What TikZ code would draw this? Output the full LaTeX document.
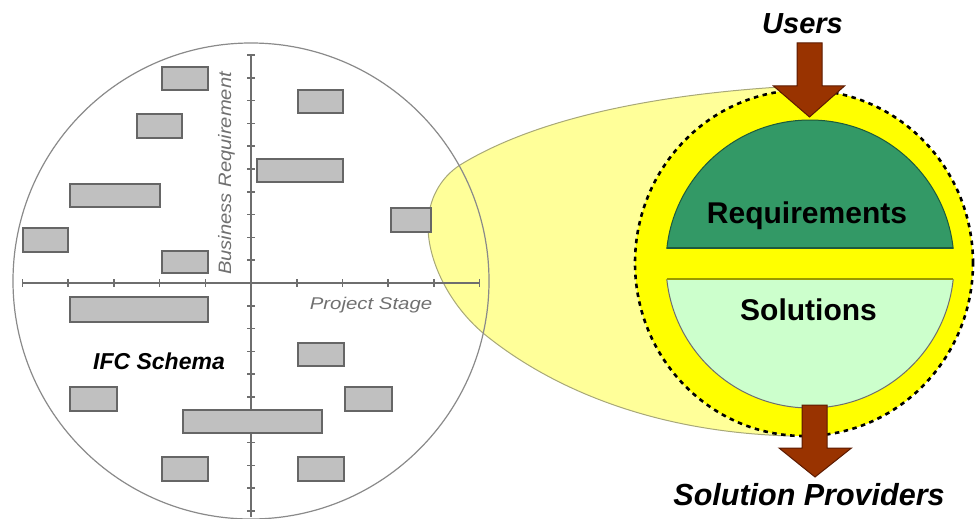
\documentclass[tikz,border=0pt]{standalone}
\usepackage{fontspec}
\setmainfont{Liberation Sans}
\usetikzlibrary{calc}
\definecolor{blobfill}{HTML}{FFFF99}
\definecolor{blobline}{HTML}{A8A878}
\definecolor{circgray}{HTML}{8A8A8A}
\definecolor{axisgray}{HTML}{6E6E6E}
\definecolor{barfill}{HTML}{C0C0C0}
\definecolor{barline}{HTML}{666666}
\definecolor{labgray}{HTML}{707070}
\definecolor{ringyellow}{HTML}{FFFF00}
\definecolor{reqgreen}{HTML}{339966}
\definecolor{reqline}{HTML}{1E5A3C}
\definecolor{solgreen}{HTML}{CCFFCC}
\definecolor{solline}{HTML}{999900}
\definecolor{arrowbrown}{HTML}{993300}
\definecolor{arrowline}{HTML}{5C1A00}
\begin{document}
\begin{tikzpicture}[x=1pt,y=-1pt,
  bar/.style={fill=barfill, draw=barline, line width=1.4pt},
  axisline/.style={draw=axisgray, line width=1.6pt},
  tickmark/.style={draw=axisgray, line width=1.6pt},
  graylabel/.style={text=labgray, inner sep=0pt},
  blacklabel/.style={text=black, inner sep=0pt},
  fatarrow/.style={fill=arrowbrown, draw=arrowline, line width=1pt, line join=miter}]
\useasboundingbox (0,0) rectangle (975,519);

% yellow magnifying blob
\draw[fill=blobfill, draw=blobline, line width=1pt]
  (780,87) .. controls (640,96) and (530,122) .. (460,165)
  .. controls (440,178) and (428,200) .. (428,226)
  .. controls (428,262) and (450,305) .. (483,333)
  .. controls (540,380) and (640,432) .. (792,436)
  -- (805,263) -- cycle;

% left circle
\draw[circgray, line width=1.2pt] (251,281) circle[radius=238pt];

% axes and ticks
\draw[axisline] (23,283) -- (480,283);
\draw[axisline] (251,55) -- (251,517);
\foreach \k in {-5,...,-1,1,2,3,4,5}
  \draw[tickmark] ({251+45.7*\k},279) -- ++(0,8);
\foreach \k in {-10,...,-1,1,2,...,10}
  \draw[tickmark] (247,{283+22.8*\k}) -- ++(8,0);

% bars
\foreach \a/\b/\c/\d in {162/67/208/90, 298/90/343/113, 137/114/182/138, 257/159/343/182,
  70/184/160/207, 391/208/431/232, 23/228/68/252, 162/251/208/273, 70/297/208/322,
  298/343/344/366, 70/387/117/411, 345/387/392/411, 183/410/322/433, 162/457/208/481,
  298/457/344/481}
  \draw[bar] (\a,\b) rectangle (\c,\d);

% left labels
\node[graylabel, rotate=90, font=\fontsize{18}{20}\selectfont\itshape] (busreq) at (226.5,173.5) {\scalebox{1.12}[1]{Business Requirement}};
\node[graylabel, font=\fontsize{17}{19}\selectfont\itshape] (stage) at (371,305.5) {\scalebox{1.2}[1]{Project Stage}};
\node[blacklabel, font=\fontsize{23}{25}\selectfont\bfseries\itshape] (ifc) at (159,361.5) {IFC Schema};

% right: yellow ring with dashed outline
\fill[ringyellow] (804,263) ellipse[x radius=169pt, y radius=173pt];
\draw[black, line width=2.6pt, dash pattern=on 4.5pt off 4.5pt] (804,263) ellipse[x radius=169pt, y radius=173pt];

% requirements segment
\begin{scope}
  \clip (600,0) rectangle (1000,248);
  \fill[reqgreen] (810,264) circle[radius=144pt];
  \draw[reqline, line width=1pt] (810,264) circle[radius=144pt];
\end{scope}
\draw[reqline, line width=1.5pt] (667,248) -- (953,248);

% solutions segment
\begin{scope}
  \clip (600,279) rectangle (1000,500);
  \fill[solgreen] (810,264) circle[radius=144pt];
  \draw[circgray!80!black, line width=1pt] (810,264) circle[radius=144pt];
\end{scope}
\draw[solline, line width=1.5pt] (667,279) -- (953,279);

\node[blacklabel, font=\fontsize{30}{34}\selectfont\bfseries] (req) at (807,216) {Requirements};
\node[blacklabel, font=\fontsize{30}{34}\selectfont\bfseries] (sol) at (808.5,310) {Solutions};

% labels top and bottom
\node[blacklabel, font=\fontsize{29}{32}\selectfont\bfseries\itshape] (users) at (802.5,24) {Users};
\node[blacklabel, font=\fontsize{30.5}{34}\selectfont\bfseries\itshape] (prov) at (809,494.5) {Solution Providers};

% arrows
\coordinate (a1s) at (809.5,43);
\coordinate (a1t) at (809.5,117);
\draw[fatarrow] ($(a1s)+(-12.5,0)$) -- ($(a1s)+(12.5,0)$) -- ($(a1s)+(12.5,43)$) -- ($(a1s)+(35,43)$)
  -- (a1t) -- ($(a1s)+(-36,43)$) -- ($(a1s)+(-12.5,43)$) -- cycle;
\coordinate (a2s) at (814.5,405);
\coordinate (a2t) at (815,477);
\draw[fatarrow] ($(a2s)+(-12.5,0)$) -- ($(a2s)+(12.5,0)$) -- ($(a2s)+(12.5,43)$) -- ($(a2s)+(37,43)$)
  -- (a2t) -- ($(a2s)+(-35.5,43)$) -- ($(a2s)+(-12.5,43)$) -- cycle;
\end{tikzpicture}
\end{document}
